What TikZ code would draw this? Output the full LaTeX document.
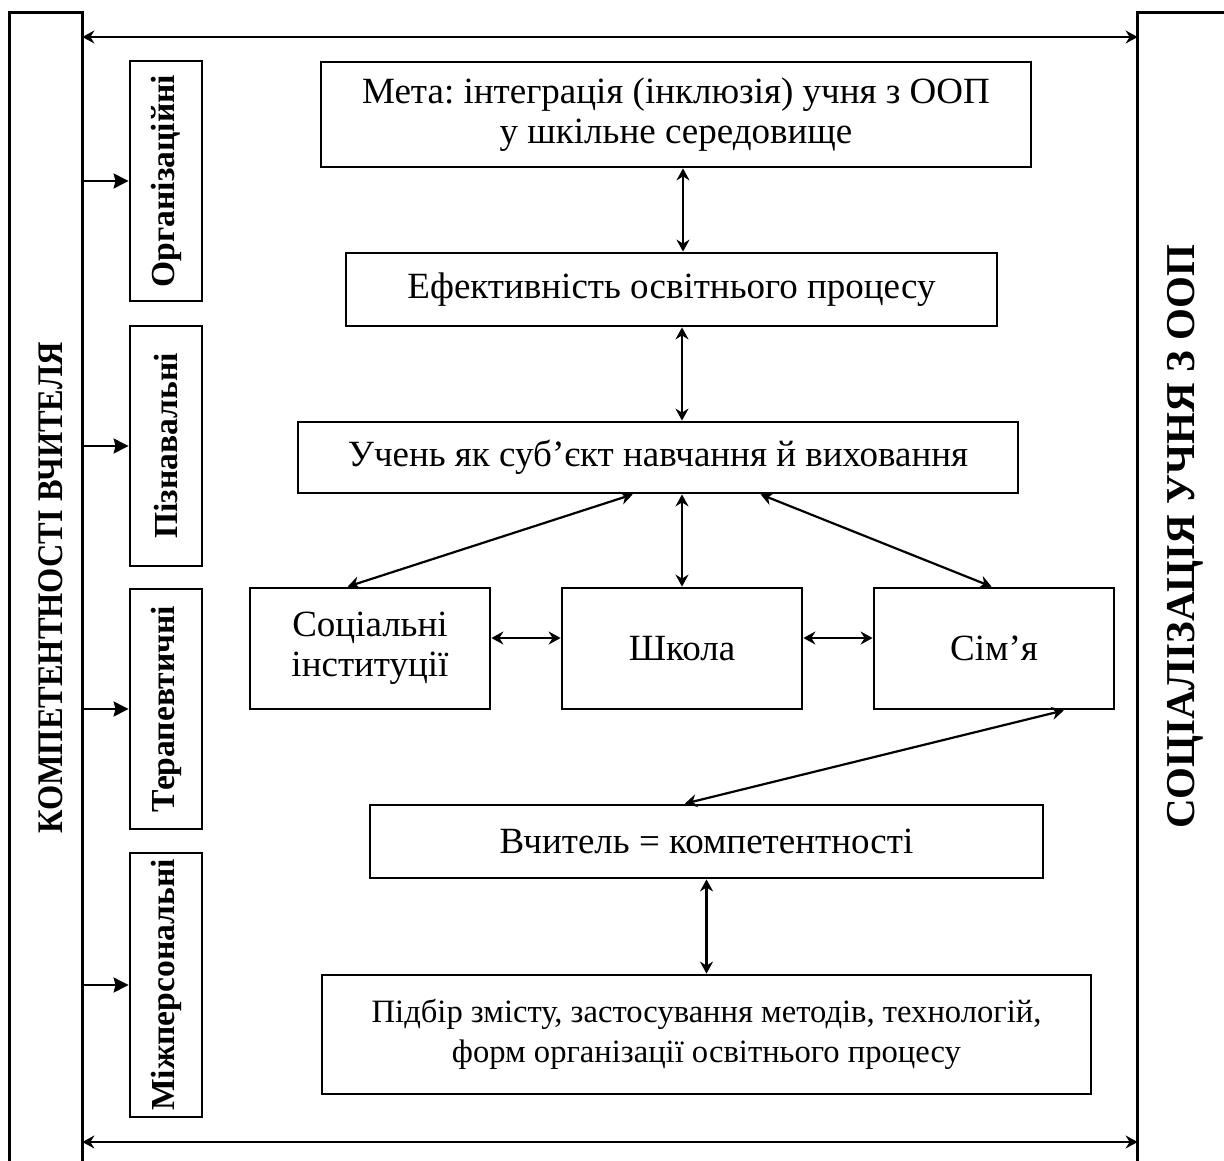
\documentclass[tikz,border=0pt]{standalone}
\usepackage{fontspec}
\setmainfont{Liberation Serif}
\usetikzlibrary{arrows.meta,calc}
\frenchspacing
\begin{document}
\begin{tikzpicture}[x=0.5pt,y=-0.5pt,
  box/.style={draw,line width=1.4pt,inner sep=0pt,align=center,
    font=\fontsize{18.5}{20}\selectfont},
  smallbox/.style={draw,line width=1.4pt,inner sep=0pt,minimum width=36pt},
  vlabel/.style={rotate=90,font=\fontsize{16.8}{19}\selectfont\bfseries},
  col/.style={inner sep=0pt,minimum width=36pt,minimum height=593.5pt},
  link/.style={line width=1.1pt,{Stealth[length=6pt,width=6.5pt,inset=2pt]}-{Stealth[length=6pt,width=6.5pt,inset=2pt]}},
  feed/.style={line width=1.1pt,-{Stealth[length=7.5pt,width=7.5pt,inset=1pt]}}
]
\useasboundingbox (0,0) rectangle (1224,1160);
\clip (0,0) rectangle (1224,1160);

% outer columns, open at the bottom
\node[col] (lcol) at (46,606.5) {};
\node[col,minimum width=61pt] (rcol) at (1199,606.5) {};
\draw[line width=1.4pt] (lcol.south west) |- (lcol.north east) -- (lcol.south east);
\draw[line width=1.4pt] (rcol.south west) |- (rcol.north east);
\node[vlabel,font=\fontsize{18}{19}\selectfont\bfseries\addfontfeatures{FakeStretch=0.9}] (ltext) at (51,588) {КОМПЕТЕНТНОСТІ ВЧИТЕЛЯ};
\node[vlabel,font=\fontsize{20.5}{22}\selectfont\bfseries] (rtext) at (1185,537) {СОЦІАЛІЗАЦІЯ УЧНЯ З ООП};

% horizontal links between the columns
\coordinate (ytop) at (0,37);
\coordinate (ybot) at (0,1142);
\draw[link] (lcol.east |- ytop) -- (rcol.west |- ytop);
\draw[link] (lcol.east |- ybot) -- (rcol.west |- ybot);

% kinds of competences
\node[smallbox,minimum height=120pt] (org) at (166,181) {};
\node[vlabel] at (org) {Організаційні};
\node[smallbox,minimum height=120pt] (piz) at (166,446) {};
\node[vlabel] at (piz) {Пізнавальні};
\node[smallbox,minimum height=120pt] (ter) at (166,709) {};
\node[vlabel] at (ter) {Терапевтичні};
\node[smallbox,minimum height=132pt] (mizh) at (166,985) {};
\node[vlabel] at (mizh) {Міжперсональні};

\foreach \k in {org,piz,ter,mizh}
  \draw[feed] (lcol.east |- \k.west) -- (\k.west);

% central chain
\node[box,minimum width=355pt,minimum height=52.5pt] (meta) at (676,114.5)
  {Мета: інтеграція (інклюзія) учня з ООП\\у шкільне середовище};
\node[box,minimum width=325.5pt,minimum height=36.5pt] (eff) at (671.5,289.5)
  {Ефективність освітнього процесу};
\node[box,minimum width=360pt,minimum height=35.5pt] (uchen) at (658,457.5)
  {Учень як суб’єкт навчання й виховання};
\node[box,minimum width=120pt,minimum height=60.5pt] (soc) at (370,648.5)
  {Соціальні\\інституції};
\node[box,minimum width=120pt,minimum height=60.5pt] (school) at (682,648.5)
  {Школа};
\node[box,minimum width=120pt,minimum height=60.5pt] (fam) at (994,648.5)
  {Сім’я};
\node[box,minimum width=336.5pt,minimum height=36.5pt] (teach) at (706.5,841.5)
  {Вчитель = компетентності};
\node[box,minimum width=384.5pt,minimum height=59.5pt,
  font=\fontsize{16.3}{20}\selectfont] (pidbir) at (706.5,1034.5)
  {Підбір змісту, застосування методів, технологій,\\форм організації освітнього процесу};

\coordinate (xa) at (683,0);
\coordinate (xb) at (682,0);
\coordinate (ymid) at (0,638);
\draw[link] (meta.south -| xa) -- (eff.north -| xa);
\draw[link] (eff.south -| xb) -- (uchen.north -| xb);
\draw[link] (uchen.south -| school.north) -- (school.north);
\draw[link] ($(uchen.south west)!0.465!(uchen.south east)$) -- ($(soc.north west)!0.408!(soc.north east)$);
\draw[link] ($(uchen.south west)!0.642!(uchen.south east)$) -- ($(fam.north west)!0.49!(fam.north east)$);
\draw[link] (soc.east |- ymid) -- (school.west |- ymid);
\draw[link] (school.east |- ymid) -- (fam.west |- ymid);
\draw[link] ($(fam.south west)!0.7875!(fam.south east)$) -- ($(teach.north west)!0.468!(teach.north east)$);
\draw[link] (teach.south) -- (pidbir.north);
\end{tikzpicture}
\end{document}
